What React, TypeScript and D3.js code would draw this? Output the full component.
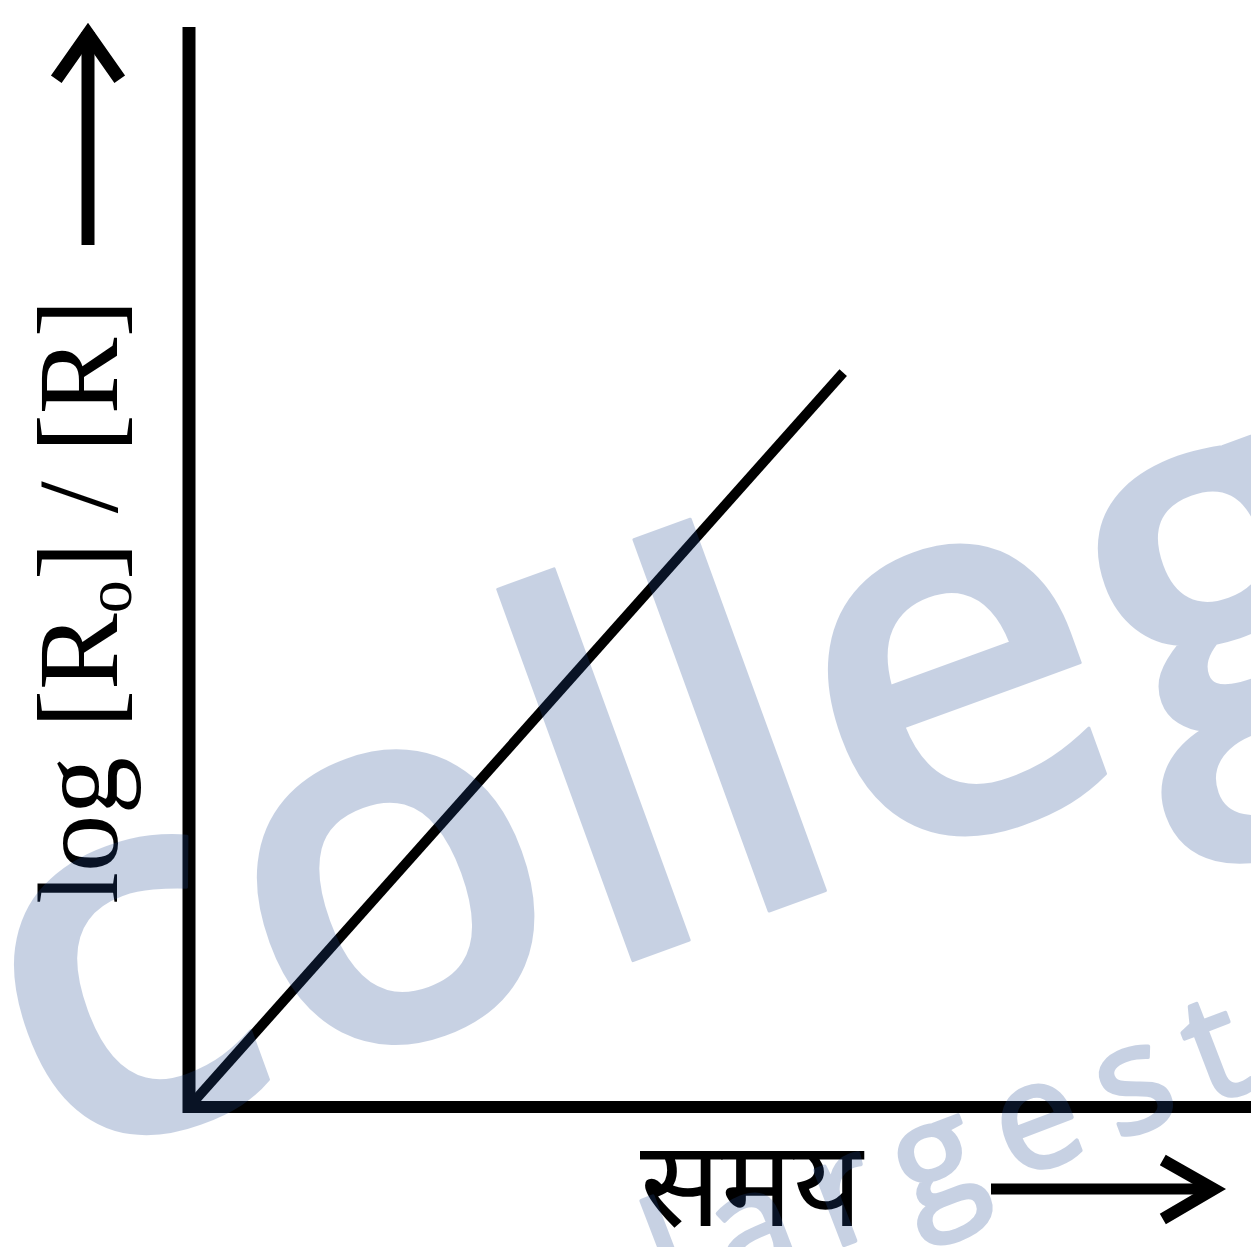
import React from "react";
import * as d3 from "d3";

// ---- data ----
const timeValues = [0, 6.16];
const logRatioValues = [0, 6.8];
const xAxisLabel = "समय";
const yAxisLabelMain = "log [R";
const yAxisLabelSub = "o";
const yAxisLabelRest = "] / [R]";
const watermarkMain = "collegedunia";
const watermarkSub = "India's largest";

const W = 1251;
const H = 1247;

export default function App() {
  const x = d3.scaleLinear().domain([0, 10]).range([189, 1251]);
  const y = d3.scaleLinear().domain([0, 10]).range([1107, 27]);
  const pts: [number, number][] = timeValues.map((t, i) => [t, logRatioValues[i]]);
  const line = d3
    .line<[number, number]>()
    .x((d) => x(d[0]))
    .y((d) => y(d[1]));

  const x0 = x(0);
  const y0 = y(0);

  return (
    <svg
      width={W}
      height={H}
      viewBox={`0 0 ${W} ${H}`}
      style={{ position: "absolute", left: 0, top: 0, background: "#fff" }}
    >
      <rect x={0} y={0} width={W} height={H} fill="#ffffff" />
      {/* axes */}
      <line x1={x0} y1={y(10)} x2={x0} y2={y0 + 6} stroke="#000" strokeWidth={13} />
      <line x1={x0 - 6} y1={y0} x2={x(10)} y2={y0} stroke="#000" strokeWidth={12} />
      {/* data line */}
      <path d={line(pts) || ""} fill="none" stroke="#000" strokeWidth={10} />

      {/* y axis label */}
      <text
        transform={`translate(117,904) rotate(-90)`}
        fontFamily="'Liberation Serif', 'Times New Roman', serif"
        fontSize={115}
        fill="#000"
      >
        {yAxisLabelMain}
        <tspan fontSize={66} dy={14}>{yAxisLabelSub}</tspan>
        <tspan dy={-14}>{yAxisLabelRest}</tspan>
      </text>
      {/* y arrow */}
      <line x1={88} y1={245} x2={88} y2={32} stroke="#000" strokeWidth={13} />
      <polyline
        points="60,74 88,34 116,74"
        fill="none"
        stroke="#000"
        strokeWidth={13}
        strokeLinecap="square"
      />

      {/* x axis label */}
      <text
        x={640}
        y={1226}
        fontFamily="'Noto Sans Devanagari', 'Lohit Devanagari', 'Noto Serif Devanagari', 'FreeSerif', 'Noto Sans', sans-serif"
        fontSize={120}
        fill="#000"
      >
        {xAxisLabel}
      </text>
      {/* x arrow */}
      <line x1={991} y1={1189} x2={1212} y2={1189} stroke="#000" strokeWidth={11} />
      <polyline
        points="1168,1163 1214,1189 1168,1216"
        fill="none"
        stroke="#000"
        strokeWidth={12}
        strokeLinecap="square"
      />

      {/* watermark */}
      <g
        fill="rgb(36,76,148)"
        stroke="rgb(36,76,148)"
        strokeLinejoin="round"
        opacity={0.25}
        fontFamily="'Open Sans', sans-serif"
      >
        <text transform="translate(52,1172) rotate(-20)" fontSize={520} fontWeight={600} strokeWidth={3}>
          {watermarkMain}
        </text>
        <text
          transform="translate(1282,1077) rotate(-21)"
          fontSize={150}
          fontWeight={500}
          strokeWidth={4}
          letterSpacing={26}
          textAnchor="end"
        >
          {watermarkSub}
        </text>
      </g>
    </svg>
  );
}
